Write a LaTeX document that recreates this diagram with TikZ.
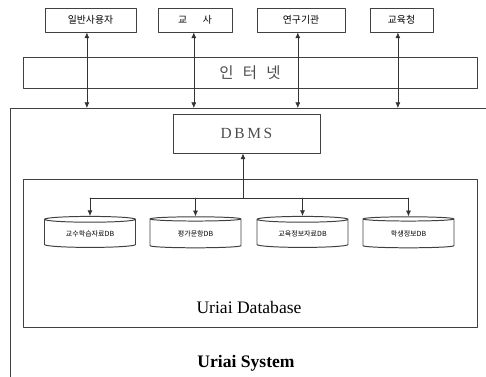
\documentclass[tikz,border=0pt]{standalone}
\usepackage{fontspec}
\setmainfont{Liberation Serif}
\newfontfamily\kr{Noto Sans CJK KR}
\usetikzlibrary{shapes.geometric,arrows.meta}
\tikzset{
	box/.style={draw=black!75, line width=0.7pt, inner sep=0pt},
	cyl/.style={draw=black!75, line width=0.7pt, shape=cylinder, shape border rotate=90, aspect=0.12, inner sep=0pt,
		minimum width=2.275cm, minimum height=0.775cm, font=\kr\fontsize{5}{6}\selectfont},
}
\begin{document}
\begin{tikzpicture}[font=\kr\fontsize{7}{8}\selectfont, line join=round, line cap=round, >={Latex[length=4pt,width=3.5pt]}]
			\useasboundingbox (0,0) rectangle (12.15,-9.4);
			\clip (0,0) rectangle (12.15,-9.4);
			% users
			\node[box, minimum width=2.275cm, minimum height=0.6cm] (user) at (2.2625,-0.5) {일반사용자};
			\node[box, minimum width=1.85cm, minimum height=0.6cm] (teacher) at (4.875,-0.5) {교\hspace{1.6em}사};
			\node[box, minimum width=2.2cm, minimum height=0.6cm] (inst) at (7.525,-0.5) {연구기관};
			\node[box, minimum width=1.575cm, minimum height=0.6cm] (office) at (10.0375,-0.5) {교육청};
			\node[box, minimum width=11.35cm, minimum height=0.775cm, font=\kr\fontsize{11}{12}\selectfont, text=black!70] (net) at (6.25,-1.8125) {인\hspace{0.6em}터\hspace{0.6em}넷};
			% system
			\coordinate (S) at (0.25,-2.7);
			\draw[black!75, line width=0.7pt] (13,-2.7)--(S)--(0.25,-10);
			\node[box, minimum width=3.675cm, minimum height=0.975cm, font=\fontsize{11}{12}\selectfont, text=black!70] (dbms) at (6.1625,-3.3375) {D\,B\,M\,S};
			\node[box, minimum width=11.35cm, minimum height=3.7cm] (db) at (6.25,-6.325) {};
			\coordinate (F) at (6.075,-4.95);
			\node[cyl] (c1) at (2.25,-5.84) {교수학습자료DB};
			\node[cyl] (c2) at (4.8875,-5.84) {평가문항DB};
			\node[cyl] (c3) at (7.5625,-5.84) {교육정보자료DB};
			\node[cyl] (c4) at (10.2125,-5.84) {학생정보DB};
			\node[font=\fontsize{12.5}{14}\selectfont] (dbname) at (6.225,-7.675) {Uriai Database};
			\node[font=\bfseries\fontsize{12.5}{14}\selectfont] (sysname) at (6.15,-9.075) {Uriai System};
			% arrows
			\draw[<->, black!80] ([xshift=-0.09cm]user.south) -- ([xshift=-0.09cm]user.south |- S);
			\draw[<->, black!80] ([xshift=-0.03cm]teacher.south) -- ([xshift=-0.03cm]teacher.south |- S);
			\draw[<->, black!80] ([xshift=-0.08cm]inst.south) -- ([xshift=-0.08cm]inst.south |- S);
			\draw[<->, black!80] ([xshift=-0.09cm]office.south) -- ([xshift=-0.09cm]office.south |- S);
			\draw[->, black!80] (F) -- (F |- dbms.south);
			\draw[black!80] (F) -- (F -| c1.north) (F) -- (F -| c4.north);
			\foreach \c in {c1,c2,c3,c4}
				\draw[->, black!80] (F -| \c.north) -- (\c.north);
		\end{tikzpicture}
\end{document}
